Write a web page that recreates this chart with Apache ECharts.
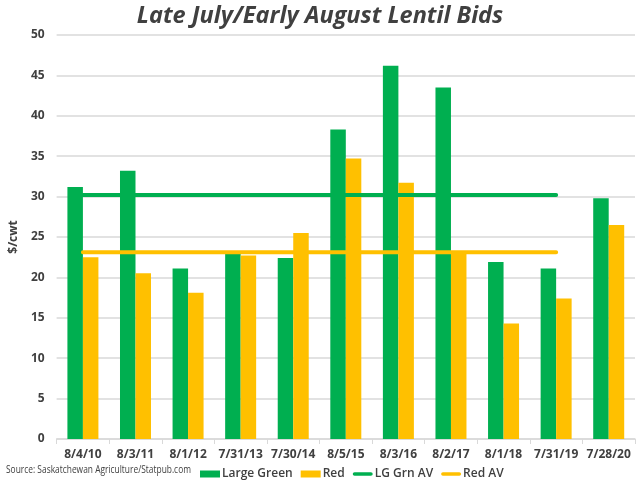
<!DOCTYPE html>
<html><head><meta charset="utf-8">
<script src="https://cdn.jsdelivr.net/npm/echarts@6/dist/echarts.min.js"></script>
<style>html,body{margin:0;padding:0;background:#fff}#c{width:640px;height:480px}</style>
</head><body><div id="c"></div>
<script>
const categories = ['8/4/10','8/3/11','8/1/12','7/31/13','7/30/14','8/5/15','8/3/16','8/2/17','8/1/18','7/31/19','7/28/20'];
const largeGreen = [31.2, 33.2, 21.1, 22.9, 22.4, 38.3, 46.2, 43.5, 21.9, 21.1, 29.8];
const red = [22.5, 20.5, 18.1, 22.7, 25.5, 34.7, 31.7, 23.0, 14.3, 17.4, 26.5];
const lgGrnAv = [30.2, 30.2, 30.2, 30.2, 30.2, 30.2, 30.2, 30.2, 30.2, 30.2, '-'];
const redAv = [23.1, 23.1, 23.1, 23.1, 23.1, 23.1, 23.1, 23.1, 23.1, 23.1, '-'];
const yTicks = {min: 0, max: 50, interval: 5};

const GREEN = '#00AF50', YELLOW = '#FFC000', TXT = '#404040', GRID = '#d9d9d9';
const FONT = '"Open Sans", "Noto Sans", sans-serif';
const LINE_ICON = 'path://M2,0 L20,0 A2,2 0 0 1 20,4 L2,4 A2,2 0 0 1 2,0 Z';
const chart = echarts.init(document.getElementById('c'), null, {renderer: 'canvas'});
chart.setOption({
  animation: false,
  textStyle: {fontFamily: FONT},
  title: {text: 'Late July/Early August Lentil Bids', left: 'center', top: 0,
    textStyle: {fontFamily: FONT, fontSize: 23.5, fontWeight: 'bold', fontStyle: 'italic', color: TXT}},
  grid: {left: 42, right: 5, top: 35, bottom: 41},
  graphic: [{type: 'text', x: 6, y: 465, scaleX: 0.84,
    style: {text: 'Source: Saskatchewan Agriculture/Statpub.com', fontFamily: FONT, fontSize: 10, fill: TXT}}],
  legend: {left: 195, top: 463, itemGap: 8, itemWidth: 20, itemHeight: 7,
    textStyle: {fontFamily: FONT, fontSize: 12, fontWeight: 600, color: TXT, padding: [0,0,0,-3]},
    data: [{name: 'Large Green', icon: 'rect'}, {name: 'Red', icon: 'rect'},
           {name: 'LG Grn AV', icon: LINE_ICON}, {name: 'Red AV', icon: LINE_ICON}]},
  xAxis: {type: 'category', data: categories,
    axisLine: {lineStyle: {color: GRID, width: 1.5}},
    axisTick: {show: true, interval: 0, length: 5, lineStyle: {color: GRID}},
    axisLabel: {interval: 0, color: TXT, fontWeight: 'bold', fontSize: 12, margin: 10, fontFamily: FONT}},
  yAxis: {type: 'value', min: yTicks.min, max: yTicks.max, interval: yTicks.interval,
    name: '$/cwt', nameLocation: 'middle', nameGap: 29, nameRotate: 90,
    nameTextStyle: {color: TXT, fontWeight: 'bold', fontSize: 12, fontFamily: FONT},
    axisLabel: {color: TXT, fontWeight: 'bold', fontSize: 12, margin: 12, fontFamily: FONT},
    splitLine: {lineStyle: {color: GRID, width: 1.5}}},
  series: [
    {name: 'Large Green', type: 'bar', data: largeGreen, barWidth: 15.5, barGap: '0%', itemStyle: {color: GREEN}},
    {name: 'Red', type: 'bar', data: red, barWidth: 15.5, itemStyle: {color: YELLOW}},
    {name: 'LG Grn AV', type: 'line', data: lgGrnAv, symbol: 'none', z: 5,
      lineStyle: {color: GREEN, width: 4, cap: 'round'}, itemStyle: {color: GREEN}},
    {name: 'Red AV', type: 'line', data: redAv, symbol: 'none', z: 5,
      lineStyle: {color: YELLOW, width: 4, cap: 'round'}, itemStyle: {color: YELLOW}}
  ]
});
</script></body></html>
